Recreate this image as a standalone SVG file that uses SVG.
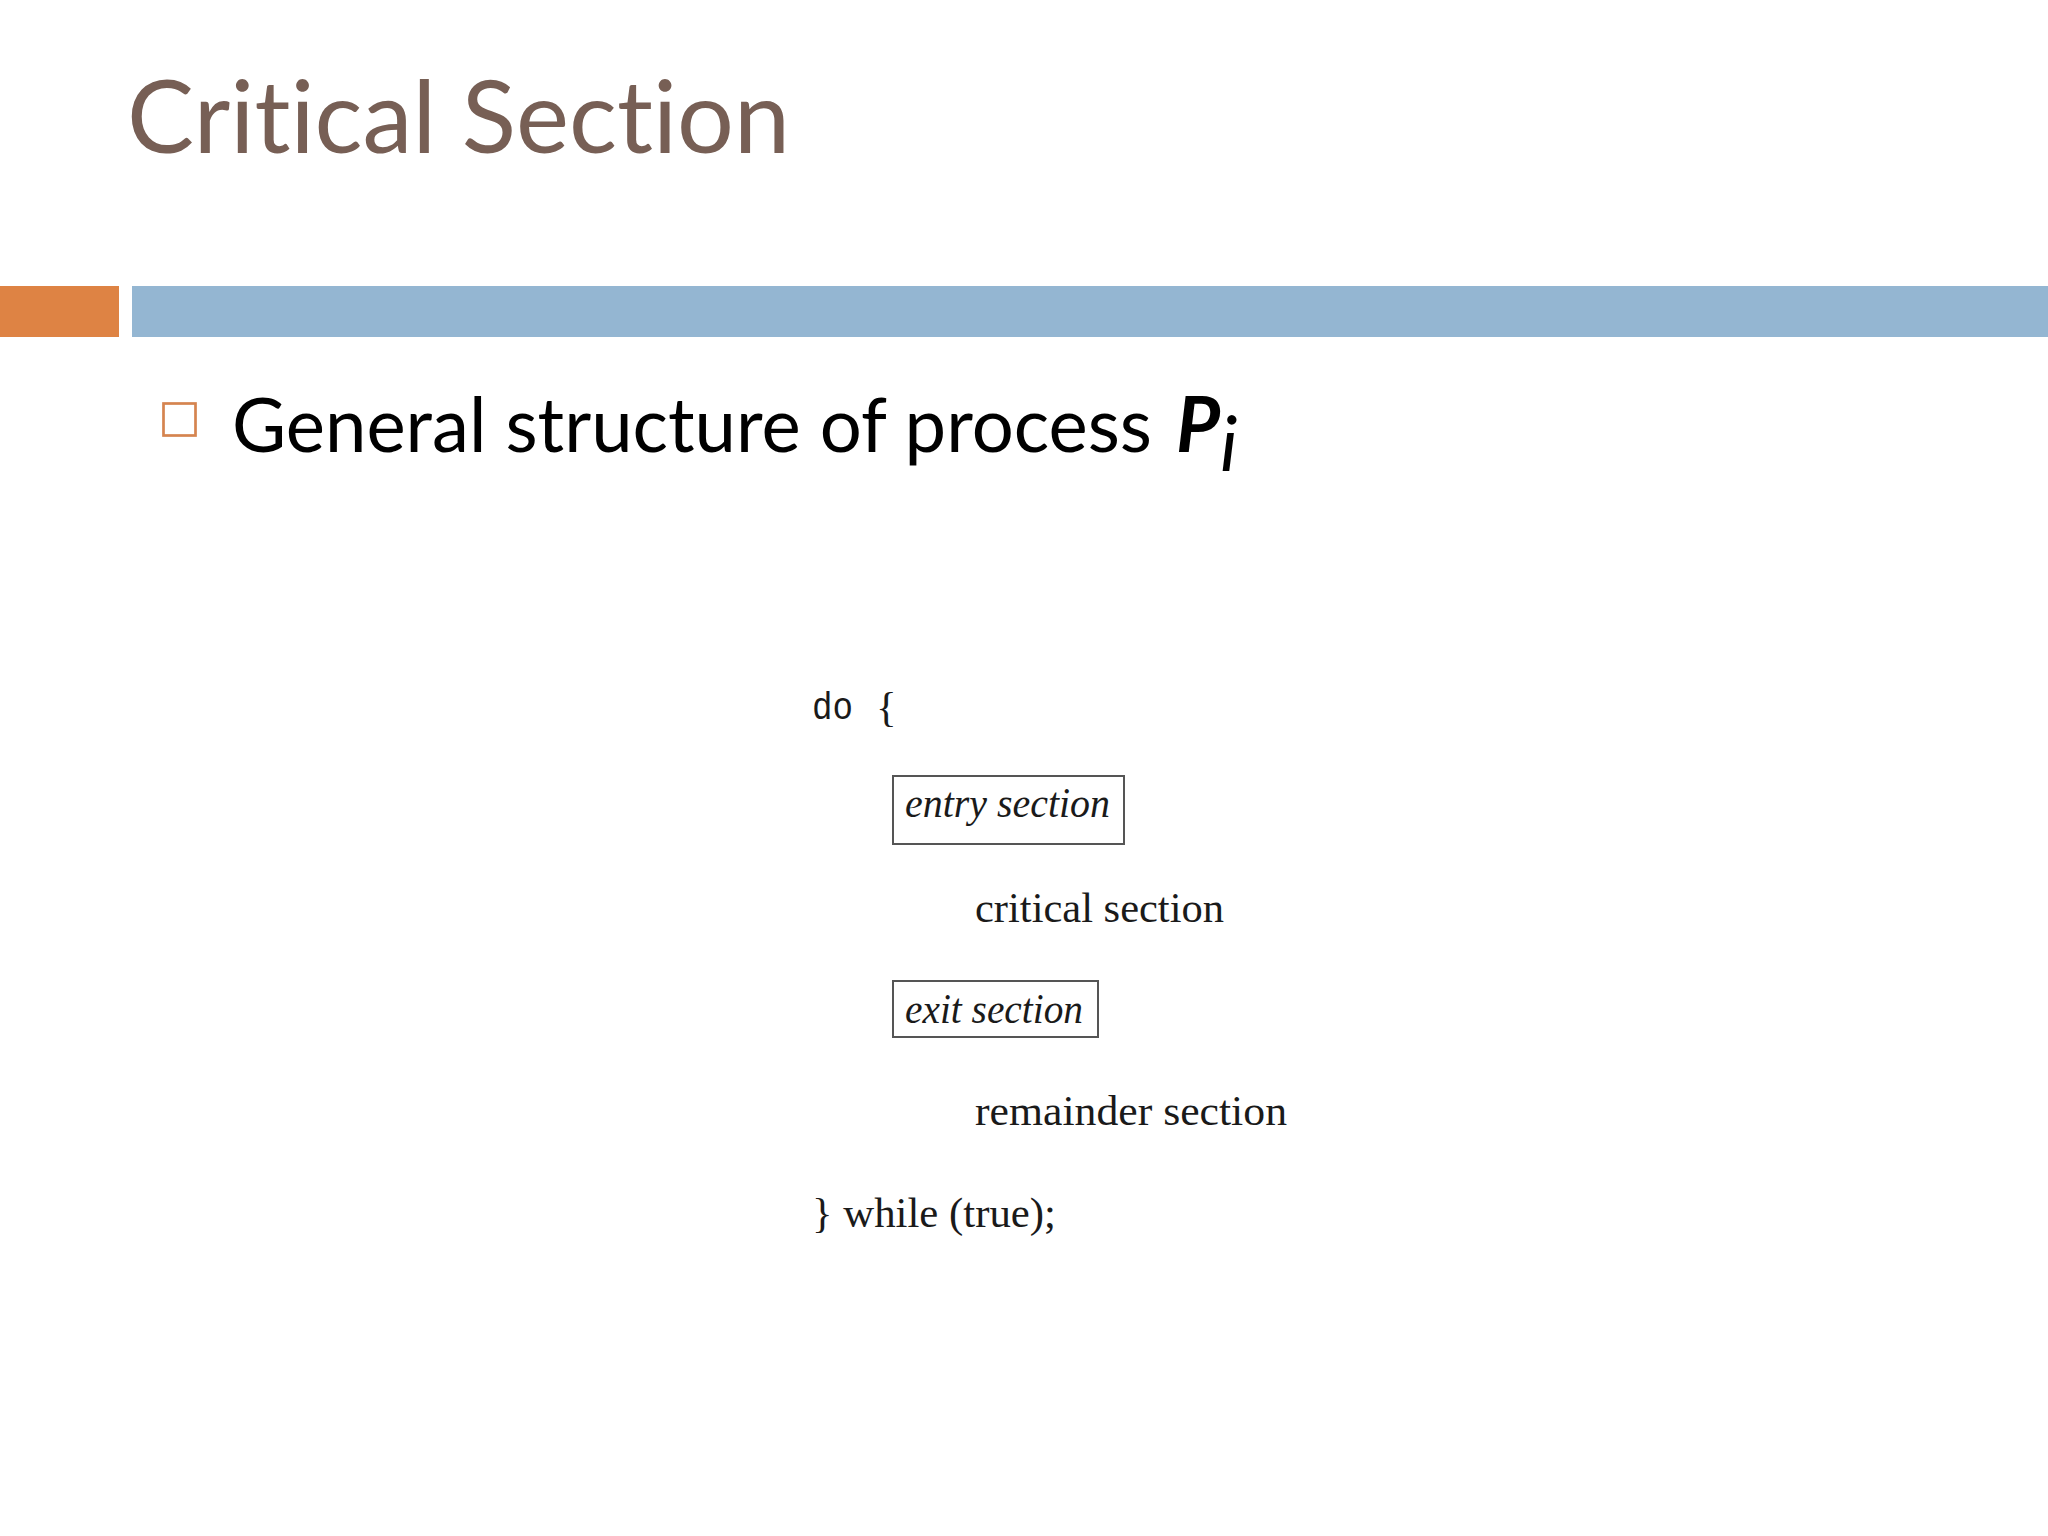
<svg xmlns="http://www.w3.org/2000/svg" width="2048" height="1536" viewBox="0 0 2048 1536">
  <style>
    text { font-variant-ligatures: none; font-feature-settings: "liga" 0, "clig" 0; }
    .title { font-family: "Lato", "Liberation Sans", sans-serif; font-size: 100px; fill: #775F55; }
    .bullet { font-family: "Lato", "Liberation Sans", sans-serif; font-size: 76px; fill: #000000; }
    .code { font-family: "Liberation Serif", "DejaVu Serif", serif; font-size: 43px; fill: #1a1a1a; }
    .codei { font-family: "Liberation Serif", "DejaVu Serif", serif; font-style: italic; font-size: 42px; fill: #1a1a1a; }
    .mono { font-family: "Liberation Mono", "DejaVu Sans Mono", monospace; font-size: 38px; fill: #1a1a1a; }
    .box { fill: #ffffff; stroke: #555555; stroke-width: 2; }
  </style>
  <rect x="0" y="0" width="2048" height="1536" fill="#ffffff"/>

  <g id="title">
    <text class="title" x="127" y="153" textLength="663" lengthAdjust="spacingAndGlyphs">Critical Section</text>
  </g>

  <g id="header-bars">
    <rect x="0" y="286" width="119" height="51" fill="#DE8344"/>
    <rect x="132" y="286" width="1916" height="51" fill="#94B6D2"/>
  </g>

  <g id="bullet">
    <rect x="163.5" y="403.5" width="32" height="32" fill="none" stroke="#D5844F" stroke-width="2.7"/>
    <text class="bullet" x="232" y="452" textLength="920" lengthAdjust="spacingAndGlyphs">General structure of process</text>
    <text class="bullet" x="1176" y="452" font-weight="bold" font-style="italic">P</text>
    <text class="bullet" x="1220" y="471" font-style="italic" font-size="42">i</text>
  </g>

  <g id="code">
    <g id="do-line">
      <text class="mono" x="812" y="719" textLength="41" lengthAdjust="spacingAndGlyphs">do</text>
      <text class="code" x="876" y="721" font-size="48">{</text>
    </g>
    <g id="entry-section">
      <rect class="box" x="893" y="776" width="231" height="68"/>
      <text class="codei" x="905" y="817" textLength="205" lengthAdjust="spacingAndGlyphs">entry section</text>
    </g>
    <g id="critical-section">
      <text class="code" x="975" y="922" textLength="249" lengthAdjust="spacingAndGlyphs">critical section</text>
    </g>
    <g id="exit-section">
      <rect class="box" x="893" y="981" width="205" height="56"/>
      <text class="codei" x="905" y="1023" textLength="178" lengthAdjust="spacingAndGlyphs">exit section</text>
    </g>
    <g id="remainder-section">
      <text class="code" x="975" y="1125" textLength="312" lengthAdjust="spacingAndGlyphs">remainder section</text>
    </g>
    <g id="while-line">
      <text class="code" x="812" y="1227" textLength="244" lengthAdjust="spacingAndGlyphs">} while (true);</text>
    </g>
  </g>
</svg>
